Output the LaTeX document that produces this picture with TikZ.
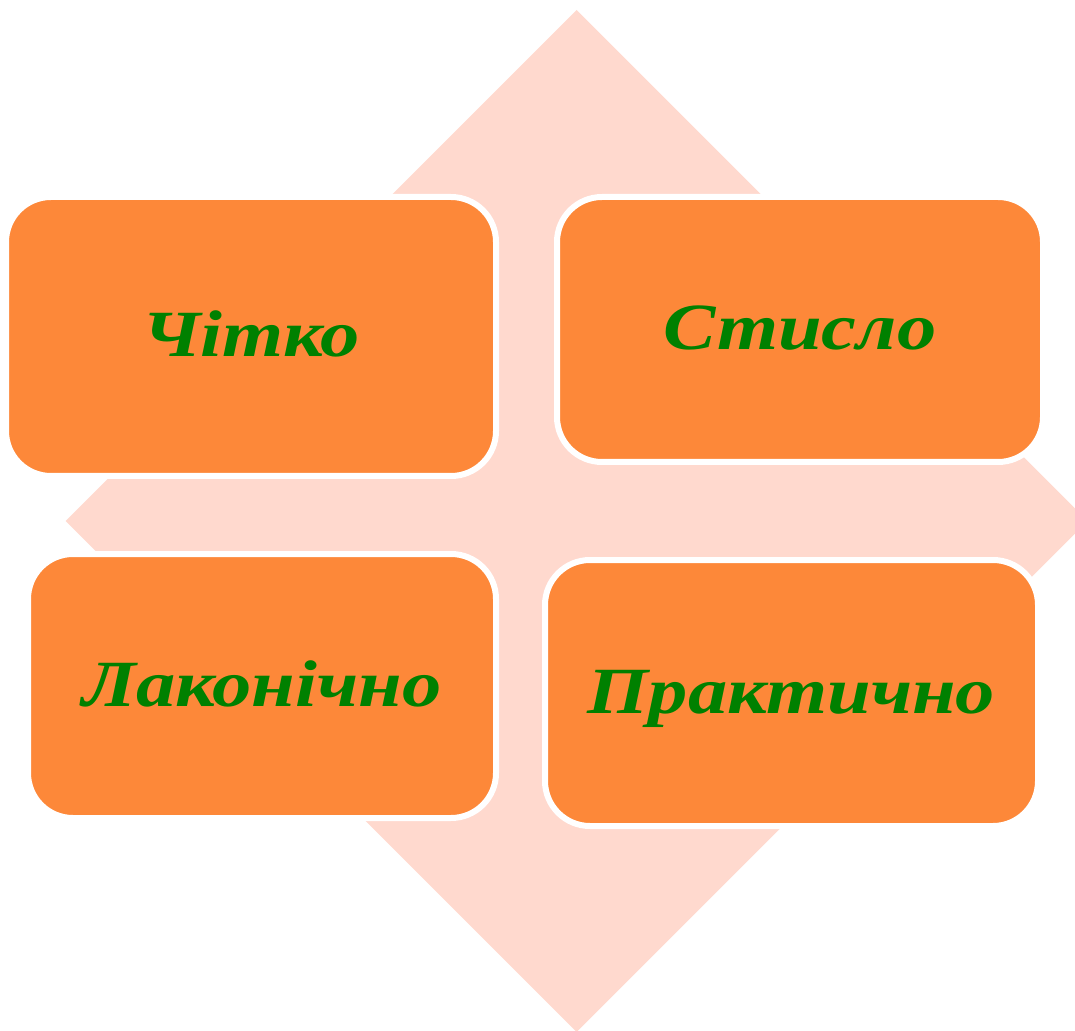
\documentclass[tikz,border=0pt]{standalone}
\usepackage{fontspec}
\setmainfont{Liberation Serif}
\definecolor{bgpink}{RGB}{255,217,206}
\definecolor{boxorange}{RGB}{253,136,57}
\definecolor{txtgreen}{RGB}{0,128,0}
\begin{document}
\begin{tikzpicture}[x=0.5pt,y=-0.5pt,
  card/.style={draw=white, line width=3pt, fill=boxorange, rounded corners=22.5pt,
    inner sep=0pt, text=txtgreen,
    font=\fontsize{33}{40}\selectfont\bfseries\itshape\addfontfeature{FakeStretch=1.19},
    text height=20.5pt, text depth=0pt},
]
\path[use as bounding box] (0,0) rectangle (1075,1031);
\clip (0,0) rectangle (1075,1031);
\fill[bgpink] (576.5,10) -- (1087.5,521) -- (576.5,1032) -- (65.5,521) -- cycle;
\node[card, minimum width=245pt, minimum height=139.5pt] (chitko) at (251,336.5) {Чітко};
\node[card, minimum width=243pt, minimum height=132.5pt] (styslo) at (800,329.5) {Стисло};
\node[card, minimum width=234pt, minimum height=132pt] (lakon) at (262,686) {Лаконічно};
\node[card, minimum width=246.5pt, minimum height=133pt] (prakt) at (791.5,693) {Практично};
\end{tikzpicture}
\end{document}
